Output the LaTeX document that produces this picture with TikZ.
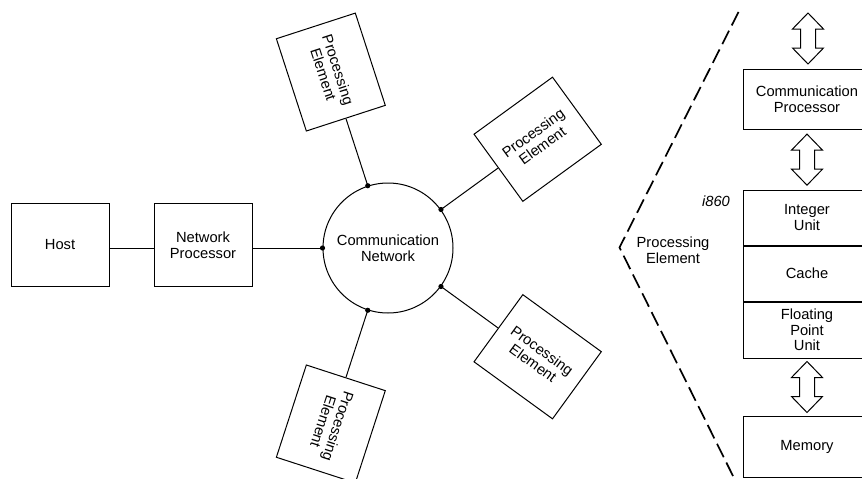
\documentclass[tikz,border=0pt]{standalone}
\usepackage{fontspec}
\setmainfont{Liberation Sans}
\usetikzlibrary{calc}
\newcommand{\figfont}{\fontsize{14.7}{15.5}\selectfont}
\begin{document}
\begin{tikzpicture}[x=1pt,y=-1pt,
  every node/.style={font=\figfont, align=center},
  box/.style={draw, line width=1pt, minimum width=98pt, minimum height=83pt, inner sep=0pt},
  pe/.style={box, minimum width=97pt},
  unit/.style={draw, line width=1pt, minimum width=128pt, inner sep=0pt},
  wire/.style={line width=1pt},
  joint/.style={fill=black},
  boundary/.style={line width=1.7pt, dash pattern=on 15pt off 6pt},
  pics/bus/.style={code={
    \draw[line width=1pt, fill=white, line join=miter]
      (0,-25.5) -- (15.5,-9.5) -- (7.5,-9.5) -- (7.5,9.5) -- (15.5,9.5)
      -- (0,25.5) -- (-15.5,9.5) -- (-7.5,9.5) -- (-7.5,-9.5) -- (-15.5,-9.5) -- cycle;}}
]
\useasboundingbox (0,0) rectangle (862,479);

% ---- host side and the communication network ----
\node[box] (host) at (60,245) {Host};
\node[box] (np) at (203,245) {Network\\Processor};
\node[draw, circle, line width=1pt, minimum size=130pt, inner sep=0pt] (cn) at (388,248)
  {Communication\\Network};

\draw[wire] (host.east |- cn.center) -- (np.west |- cn.center);
\draw[wire] (np.east |- cn.center) -- (cn.west);

% ---- processing elements around the network ----
\node[pe, rotate=-72]  (pe1) at ($(cn.center)+(108:185pt)$) {Processing\\Element};
\node[pe, rotate=36]   (pe2) at ($(cn.center)+(36:185pt)$) {Processing\\Element};
\node[pe, rotate=-36]  (pe3) at ($(cn.center)+(-36:185pt)$) {Processing\\Element};
\node[pe, rotate=-108] (pe4) at ($(cn.center)+(-108:185pt)$) {Processing\\Element};

\draw[wire] (cn.108) -- (pe1);
\draw[wire] (cn.36) -- (pe2);
\draw[wire] (cn.-36) -- (pe3);
\draw[wire] (cn.-108) -- (pe4);

\foreach \a in {180,108,36,-36,-108}
  \fill[joint] (cn.\a) circle (2.6pt);

% ---- inside a processing element ----
\draw[boundary] (738.5,12) -- (619.5,247.5) -- (737.5,485);
\node (pelabel) at (673,250) {Processing\\Element};

\node[unit, minimum height=60pt] (cp) at (807,99.3) {Communication\\Processor};
\node[font=\figfont\itshape] (chip) at (716,201) {i860};
\node[unit, minimum height=55pt] (iu) at (807,217.5) {Integer\\Unit};
\node[unit, minimum height=55pt, anchor=north] (cache) at (iu.south) {Cache};
\node[unit, minimum height=56pt, anchor=north] (fpu) at (cache.south) {Floating\\Point\\Unit};
\node[unit, minimum height=61pt] (mem) at (807,446.5) {Memory};

\pic at (808,38.5) {bus};
\pic at ($(cp.south)!0.5!(iu.north)$) {bus};
\pic at ($(fpu.south)!0.5!(mem.north)$) {bus};
\end{tikzpicture}
\end{document}
